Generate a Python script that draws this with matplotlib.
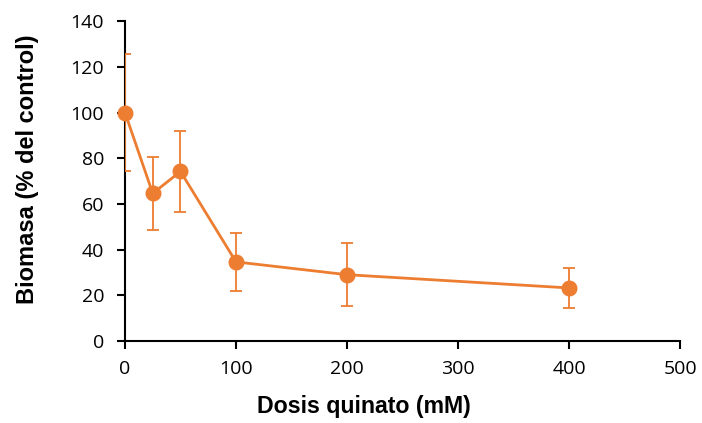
import matplotlib.pyplot as plt
import numpy as np

dosis = np.array([0, 25, 50, 100, 200, 400])
biomasa = np.array([100, 64.6, 74.2, 34.6, 29.0, 23.2])
error = np.array([25.5, 16.0, 17.7, 12.7, 13.7, 8.8])

naranja = '#ED7D31'

fig = plt.figure(figsize=(7.02, 4.23), dpi=100)
ax = fig.add_axes([0.178, 0.194, 0.791, 0.756])

# barras de error recortadas por los ejes, marcadores sin recortar
ax.errorbar(dosis, biomasa, yerr=error, fmt='none', ecolor=naranja,
            elinewidth=1.3, capsize=4.5, capthick=1.3, zorder=2.6)
ax.plot(dosis, biomasa, color=naranja, marker='o', ms=10.5, lw=2, clip_on=False, zorder=3)

ax.set_xlim(0, 500)
ax.set_ylim(0, 140)
ax.set_xticks(np.arange(0, 501, 100))
ax.set_yticks(np.arange(0, 141, 20))

for s in ['top', 'right']:
    ax.spines[s].set_visible(False)
for s in ['left', 'bottom']:
    ax.spines[s].set_linewidth(1.5)

ax.tick_params(direction='out', length=6, width=1.5, labelsize=14)
ax.tick_params(axis='y', pad=9)
ax.tick_params(axis='x', pad=8)
for lab in ax.get_xticklabels() + ax.get_yticklabels():
    lab.set_family('Open Sans')

ax.set_xlabel('Dosis quinato (mM)', fontsize=16.7, fontweight='bold',
              family='Liberation Sans')
ax.set_ylabel('Biomasa (% del control)', fontsize=17, fontweight='bold',
              family='Liberation Sans')
ax.xaxis.set_label_coords(0.43, -0.17)
ax.yaxis.set_label_coords(-0.155, 0.537)

fig.savefig('out.png', dpi=100)
